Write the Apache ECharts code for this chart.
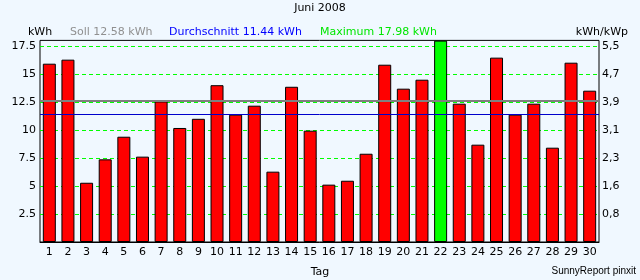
<!DOCTYPE html>
<html>
<head>
<meta charset="utf-8">
<script src="https://cdn.jsdelivr.net/npm/echarts@6/dist/echarts.min.js"></script>
<style>
html,body{margin:0;padding:0;background:#F0F8FF;}
#chart{width:640px;height:280px;}
</style>
</head>
<body>
<div id="chart"></div>
<script>
// ---- data ----
const title = 'Juni 2008';
const days = ['1','2','3','4','5','6','7','8','9','10','11','12','13','14','15','16','17','18','19','20','21','22','23','24','25','26','27','28','29','30'];
const dailyKWh = [15.92,16.28,5.29,7.38,9.40,7.62,12.55,10.18,11.00,14.00,11.37,12.17,6.28,13.86,9.94,5.12,5.47,7.88,15.83,13.69,14.49,17.98,12.35,8.69,16.46,11.37,12.35,8.42,16.01,13.51];
const maxDayIndex = 21;
const sollValue = 12.58;
const avgValue = 11.44;
const maxValue = 17.98;
const leftTicks = [2.5, 5, 7.5, 10, 12.5, 15, 17.5];
const rightTickLabels = ['0,8','1,6','2,3','3,1','3,9','4,7','5,5'];
const axisMax = 18;
const axisStep = 2.5;

const FONT = 'DejaVu Sans, Verdana, sans-serif';
const chart = echarts.init(document.getElementById('chart'), null, {renderer:'canvas'});

const barData = dailyKWh.map((v,i)=>({
  value: v,
  itemStyle: {color: i === maxDayIndex ? '#00FF00' : '#FF0000'}
}));

function tickIndex(v){ return leftTicks.indexOf(Math.round(v*10)/10); }
function leftFmt(v){ const i = tickIndex(v); return i >= 0 ? String(leftTicks[i]) : ''; }
function rightFmt(v){ const i = tickIndex(v); return i >= 0 ? rightTickLabels[i] : ''; }

const option = {
  backgroundColor: '#F0F8FF',
  animation: false,
  textStyle: {fontFamily: FONT},
  grid: {left:40, right:41, top:40.4, height:201.6, show:true, borderColor:'#000', borderWidth:1, backgroundColor:'transparent'},
  xAxis: {
    type:'category', data: days,
    axisLine:{show:true, lineStyle:{color:'#000', width:1}},
    axisTick:{show:false},
    axisLabel:{color:'#000', fontSize:11, fontFamily:FONT, margin:5, interval:0},
    splitLine:{show:false}
  },
  yAxis: [
    {
      type:'value', min:0, max:axisMax, interval:axisStep,
      axisLine:{show:false}, axisTick:{show:false},
      axisLabel:{color:'#000', fontSize:11, fontFamily:FONT, margin:4, formatter:leftFmt, showMaxLabel:false, showMinLabel:false},
      splitLine:{show:true, showMinLine:false, showMaxLine:false, lineStyle:{color:'#00FF00', width:1, type:[4,3]}}
    },
    {
      type:'value', min:0, max:axisMax, interval:axisStep, position:'right',
      axisLine:{show:false}, axisTick:{show:false},
      axisLabel:{color:'#000', fontSize:11, fontFamily:FONT, margin:3, formatter:rightFmt, showMaxLabel:false, showMinLabel:false},
      splitLine:{show:false}
    }
  ],
  series: [{
    type:'bar', data: barData, barWidth:13,
    itemStyle:{borderColor:'#000', borderWidth:1},
    markLine: {
      silent:true, symbol:['none','none'], label:{show:false},
      data: [
        {yAxis: sollValue, lineStyle:{color:'#808080', width:2, type:'solid'}},
        {yAxis: avgValue, lineStyle:{color:'#0000CC', width:1, type:'solid'}}
      ]
    }
  }],
  graphic: [
    {type:'text', x:320, y:8, style:{text:title, fontSize:11, fontFamily:FONT, fill:'#000', align:'center', verticalAlign:'middle'}},
    {type:'text', x:28, y:32, style:{text:'kWh', fontSize:11, fontFamily:FONT, fill:'#000', verticalAlign:'middle'}},
    {type:'text', x:70, y:32, style:{text:'Soll ' + sollValue.toFixed(2) + ' kWh', fontSize:11, fontFamily:FONT, fill:'#909090', verticalAlign:'middle'}},
    {type:'text', x:169, y:32, style:{text:'Durchschnitt ' + avgValue.toFixed(2) + ' kWh', fontSize:11, fontFamily:FONT, fill:'#0000FF', verticalAlign:'middle'}},
    {type:'text', x:320, y:32, style:{text:'Maximum ' + maxValue.toFixed(2) + ' kWh', fontSize:11, fontFamily:FONT, fill:'#00E600', verticalAlign:'middle'}},
    {type:'text', x:628, y:32, style:{text:'kWh/kWp', fontSize:11, fontFamily:FONT, fill:'#000', align:'right', verticalAlign:'middle'}},
    {type:'text', x:320, y:272, style:{text:'Tag', fontSize:11, fontFamily:FONT, fill:'#000', align:'center', verticalAlign:'middle'}},
    {type:'text', x:636, y:271, style:{text:'SunnyReport pinxit', fontSize:10, fontFamily:'Liberation Sans, Arial, sans-serif', fill:'#000', align:'right', verticalAlign:'middle'}}
  ]
};
chart.setOption(option);
</script>
</body>
</html>
